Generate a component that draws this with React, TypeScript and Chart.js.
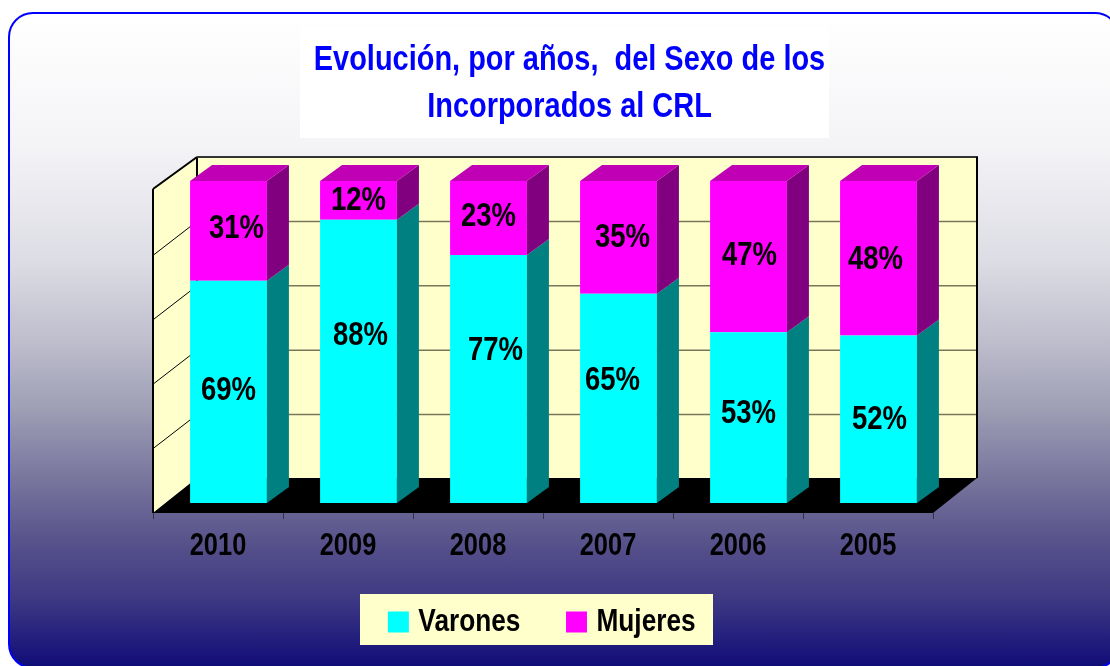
import React, { useEffect, useRef } from "react";
import { Chart, registerables } from "chart.js";

Chart.register(...registerables);

const years = ["2010", "2009", "2008", "2007", "2006", "2005"];
const varones = [69, 88, 77, 65, 53, 52];
const mujeres = [31, 12, 23, 35, 47, 48];
const titleLines = ["Evolución, por años,  del Sexo de los", "Incorporados al CRL"];

const FONT = '"Liberation Sans", Arial, sans-serif';
// the reference text is a tall, condensed face; no narrow face is installed
const TEXT_NARROWING = 0.82;

// oblique projection of the 3D look
const BAR_SHIFT = { x: 10.5, y: -10 };
const BAR_DEPTH = { x: 22, y: -16 };
const WALL_DEPTH = { x: 44, y: -35 };

// small label nudges seen in the picture, per dataset
const labelNudgeX = [
  [0, 2, 7, -6, 0, 1],
  [8, 0, 0, 4, 1, -3],
];
const labelNudgeY = [
  [-1, -26, -28, -18, -4, 0],
  [-2, 0, -1, 0, -1, 1],
];

const narrowCanvasText = (ctx: any, k: number) => {
  const fill = ctx.fillText.bind(ctx);
  const measure = ctx.measureText.bind(ctx);
  ctx.fillText = (text: string, x: number, y: number, maxWidth?: number) => {
    ctx.save();
    ctx.scale(k, 1);
    if (maxWidth === undefined) fill(text, x / k, y);
    else fill(text, x / k, y, maxWidth / k);
    ctx.restore();
  };
  ctx.measureText = (text: string) => ({ width: measure(text).width * k });
};

const poly = (ctx: CanvasRenderingContext2D, pts: number[][], fill?: string) => {
  ctx.beginPath();
  pts.forEach((p, i) => (i ? ctx.lineTo(p[0], p[1]) : ctx.moveTo(p[0], p[1])));
  ctx.closePath();
  if (fill) {
    ctx.fillStyle = fill;
    ctx.fill();
  }
};

const line = (ctx: CanvasRenderingContext2D, a: number[], b: number[], color: string, w: number) => {
  ctx.beginPath();
  ctx.moveTo(a[0], a[1]);
  ctx.lineTo(b[0], b[1]);
  ctx.strokeStyle = color;
  ctx.lineWidth = w;
  ctx.stroke();
};

const scene3d = {
  id: "scene3d",
  afterLayout(chart: any) {
    const t = chart.titleBlock;
    t.left += 26.5;
    t.right += 26.5;
    const l = chart.legend;
    const h = l.height;
    l.top = 554;
    l.bottom = 554 + h;
    l.left += 2;
    l.right += 2;
  },
  beforeDraw(chart: any) {
    const ctx: CanvasRenderingContext2D = chart.ctx;
    const { left, right, top, bottom } = chart.chartArea;
    const y = chart.scales.y;
    const dx = WALL_DEPTH.x;
    const dy = WALL_DEPTH.y;
    ctx.save();

    // panels behind the title and the legend
    ctx.fillStyle = "#ffffff";
    ctx.fillRect(300, 28, 529, 110);
    ctx.fillStyle = "#ffffcc";
    ctx.fillRect(360, 594, 353, 51);

    const topFront = top - 2;
    // back wall and side wall
    poly(ctx, [[left + dx, top + dy + 1], [right + dx, top + dy + 1], [right + dx, bottom + dy], [left + dx, bottom + dy]], "#ffffcc");
    poly(ctx, [[left, topFront], [left + dx, top + dy + 1], [left + dx, bottom + dy], [left, bottom]], "#ffffcc");

    // grid lines on both walls
    y.ticks.forEach((tick: any) => {
      if (tick.value === 0 || tick.value === 100) return;
      const py = y.getPixelForValue(tick.value);
      line(ctx, [left, py], [left + dx, py + dy + 1], "#000000", 1);
      line(ctx, [left + dx, py + dy + 1], [right + dx, py + dy + 1], "#77775a", 1.5);
    });

    // floor
    poly(ctx, [[left, bottom], [left + dx, bottom + dy], [right + dx, bottom + dy], [right, bottom]], "#000000");

    // outlines
    line(ctx, [left, bottom], [left, topFront], "#000000", 2);
    line(ctx, [left, topFront], [left + dx, top + dy + 1], "#000000", 2);
    line(ctx, [left + dx, top + dy + 1], [left + dx, bottom + dy], "#000000", 2);
    line(ctx, [left + dx, top + dy + 1], [right + dx + 1, top + dy + 1], "#333333", 2);
    line(ctx, [right + dx, top + dy + 1], [right + dx, bottom + dy], "#000000", 2);
    ctx.restore();
  },
  beforeDatasetsDraw(chart: any) {
    chart.ctx.save();
    chart.ctx.translate(BAR_SHIFT.x, BAR_SHIFT.y);
  },
  afterDatasetsDraw(chart: any) {
    const ctx: CanvasRenderingContext2D = chart.ctx;
    const dx = BAR_DEPTH.x;
    const dy = BAR_DEPTH.y;
    const sideColors = ["#008080", "#800080"];
    const last = chart.data.datasets.length - 1;

    chart.data.datasets.forEach((ds: any, di: number) => {
      chart.getDatasetMeta(di).data.forEach((bar: any) => {
        const r = bar.x + bar.width / 2;
        const l = bar.x - bar.width / 2;
        poly(ctx, [[r, bar.y], [r + dx, bar.y + dy], [r + dx, bar.base + dy], [r, bar.base]], sideColors[di]);
        if (di === last) {
          poly(ctx, [[l, bar.y], [l + dx, bar.y + dy], [r + dx, bar.y + dy], [r, bar.y]], "#bf00b5");
        }
      });
    });

    ctx.fillStyle = "#000000";
    ctx.font = `bold 33.5px ${FONT}`;
    ctx.textAlign = "center";
    ctx.textBaseline = "middle";
    chart.data.datasets.forEach((ds: any, di: number) => {
      chart.getDatasetMeta(di).data.forEach((bar: any, i: number) => {
        ctx.fillText(`${ds.data[i]}%`, bar.x + labelNudgeX[di][i], (bar.y + bar.base) / 2 + labelNudgeY[di][i]);
      });
    });
    ctx.restore();
  },
};

export default function App() {
  const ref = useRef<HTMLCanvasElement>(null);

  useEffect(() => {
    narrowCanvasText(ref.current!.getContext("2d"), TEXT_NARROWING);
    const chart = new Chart(ref.current!, {
      type: "bar",
      data: {
        labels: years,
        datasets: [
          { label: "Varones", data: varones, backgroundColor: "#00ffff", borderColor: "#00ffff", borderWidth: 0 },
          { label: "Mujeres", data: mujeres, backgroundColor: "#ff00ff", borderColor: "#ff00ff", borderWidth: 0 },
        ],
      },
      plugins: [scene3d],
      options: {
        animation: false,
        responsive: false,
        layout: { padding: { left: 153, right: 177, top: 0, bottom: 0 } },
        datasets: { bar: { categoryPercentage: 1, barPercentage: 0.591, clip: false } } as any,
        scales: {
          x: {
            stacked: true,
            grid: { drawOnChartArea: false, color: "#333344", tickLength: 6, lineWidth: 1 },
            border: { display: false },
            ticks: {
              color: "#000000",
              padding: 12,
              maxRotation: 0,
              autoSkip: false,
              font: { family: FONT, size: 31, weight: "bold", lineHeight: "31px" },
            },
            afterFit: (s: any) => {
              s.height = 153 - s.chart.legend.height;
            },
          },
          y: {
            display: false,
            stacked: true,
            min: 0,
            max: 100,
            ticks: { stepSize: 20 },
          },
        },
        plugins: {
          tooltip: { enabled: false },
          title: {
            display: true,
            text: titleLines,
            color: "#0000ff",
            font: { family: FONT, size: 35.3, weight: "bold", lineHeight: "47px" },
            padding: { top: 36.5, bottom: 60.5 },
          },
          legend: {
            display: true,
            position: "bottom",
            labels: {
              color: "#000000",
              boxWidth: 8,
              boxHeight: 8,
              padding: 52,
              font: { family: FONT, size: 32, weight: "bold" },
              generateLabels: (c: any) =>
                (Chart.defaults.plugins.legend.labels as any).generateLabels(c).map((it: any) => ({
                  ...it,
                  strokeStyle: it.fillStyle,
                  lineWidth: 13,
                })),
            },
          },
        },
      } as any,
    });
    return () => chart.destroy();
  }, []);

  return (
    <div style={{ position: "fixed", left: 0, top: 0, width: 1110, height: 666, overflow: "hidden", background: "#ffffff" }}>
      <div
        style={{
          position: "absolute",
          left: 8,
          top: 12,
          width: 1112,
          height: 657,
          boxSizing: "border-box",
          border: "2px solid #0000ff",
          borderRadius: 25,
          background:
            "linear-gradient(to bottom, #ffffff 0%, #f4f4f7 20%, #dcdce4 38%, #bebecd 50%, #a0a0b6 60%, #7d7aa0 70%, #5a558c 80%, #3c3782 90%, #100c78 100%)",
        }}
      />
      <canvas ref={ref} width={1110} height={666} style={{ position: "absolute", left: 0, top: 0 }} />
    </div>
  );
}
